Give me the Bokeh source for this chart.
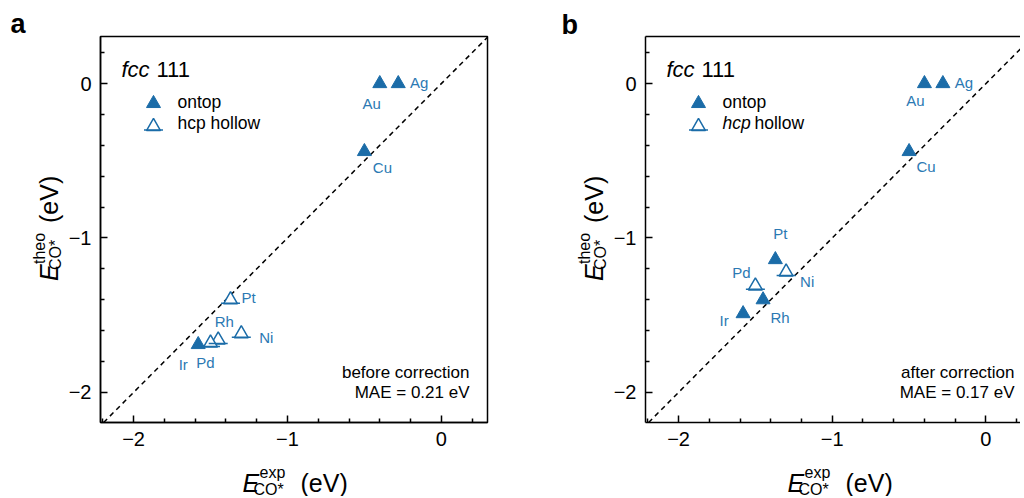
import math
from bokeh.plotting import figure
from bokeh.models import Label, FixedTicker, Slope, Range1d, LinearAxis
from bokeh.layouts import row, column
from bokeh.embed import file_html
from bokeh.resources import INLINE
from bokeh.core.properties import value

# ---------------- data ----------------
metals = ["Au", "Ag", "Cu", "Pt", "Rh", "Pd", "Ni", "Ir"]
e_exp = [-0.40, -0.28, -0.50, -1.37, -1.45, -1.50, -1.30, -1.58]
site_before = ["ontop", "ontop", "ontop", "hcp", "hcp", "hcp", "hcp", "ontop"]
e_theo_before = [0.0, 0.0, -0.44, -1.40, -1.66, -1.68, -1.62, -1.69]
site_after = ["ontop", "ontop", "ontop", "ontop", "ontop", "hcp", "hcp", "ontop"]
e_theo_after = [0.0, 0.0, -0.44, -1.14, -1.40, -1.31, -1.22, -1.49]
mae_before = "0.21"
mae_after = "0.17"
major_ticks = [-2, -1, 0]
minor_ticks = [-2.2, -1.8, -1.6, -1.4, -1.2, -0.8, -0.6, -0.4, -0.2, 0.2]
tick_labels = {-2: "\u22122", -1: "\u22121", 0: "0"}

# ---------------- layout / style ----------------
off_before = [(-8, 20), (21, -1), (18, 16), (18, -2), (6, -18), (-5, 20), (25, 4), (-15, 20)]
off_after = [(-9, 17), (21, -1), (17, 15), (5, -26), (17, 18), (-14, -13), (21, 10), (-19, 7)]

BLUE = "#1b6ca8"
LBLUE = "#2b79b3"
FONT = "Liberation Sans"
X0, Y0, Y1 = -2.215, -2.195, 0.305
TW = 1020          # total width
TS = 34            # top strip height (panel letters)
TOP, BOT = 2, 36   # plot borders
FH = 386           # frame height
PH = TOP + FH + BOT
BS = 38            # bottom strip height (x titles)
LB = 36            # plot left border
MID = 0.35         # baseline -> box middle, in em


def txt(p, x, y, text, size, style="normal", color="black", align="left",
        angle=0.0):
    """(x, y) is the baseline start of the text, in screen px from the
    frame's bottom-left corner."""
    if angle:
        x = x - MID * size
    else:
        y = y + MID * size
    p.add_layout(Label(x=x, y=y, x_units="screen", y_units="screen", text=text,
                       text_font=FONT, text_font_size=f"{size}px",
                       text_font_style=style, text_color=color,
                       text_align=align, text_baseline="middle", angle=angle))


def strip(w, h):
    s = figure(width=w, height=h, x_range=Range1d(0, w), y_range=Range1d(0, h),
               output_backend="svg", toolbar_location=None,
               x_axis_location=None, y_axis_location=None, min_border=0,
               min_border_left=0, min_border_right=0, min_border_top=0,
               min_border_bottom=0)
    s.outline_line_color = None
    s.grid.visible = False
    return s


def left_strip(w, base_x):
    # its frame is aligned with the neighbouring plot frame (abs y 36..422)
    s = strip(w, PH)
    a = math.pi / 2
    ys = 422 - 280.5
    txt(s, base_x, ys, "E", 25, style="italic", angle=a)
    txt(s, base_x - 12, ys + 17, "theo", 16, angle=a)
    txt(s, base_x + 4, ys + 11, "CO*", 16, angle=a)
    txt(s, base_x, ys + 58, "(eV)", 25, angle=a)
    return s


def x_title(s, xs):
    yb = 5
    txt(s, xs, yb, "E", 25, style="italic")
    txt(s, xs + 17, yb + 13, "exp", 16)
    txt(s, xs + 11, yb - 4, "CO*", 16)
    txt(s, xs + 58, yb, "(eV)", 25)


def panel(width, x1, br, frame_w, theo, sites, offs, line1, mae,
          italic_hcp, full_box):
    p = figure(width=width, height=PH, x_range=Range1d(X0, x1),
               y_range=Range1d(Y0, Y1), output_backend="svg",
               toolbar_location=None, min_border_left=LB, min_border_right=br,
               min_border_top=TOP, min_border_bottom=BOT)
    p.grid.visible = False
    xa = p.below[0]
    ya = p.left[0]
    for ax in (xa, ya):
        ax.ticker = FixedTicker(ticks=major_ticks, minor_ticks=minor_ticks)
        ax.major_tick_in = 7
        ax.major_tick_out = 0
        ax.minor_tick_in = 4
        ax.minor_tick_out = 0
        ax.major_tick_line_width = 1.5
        ax.minor_tick_line_width = 1.5
        ax.axis_line_width = 1.5
        ax.major_label_text_font = FONT
        ax.major_label_text_font_size = "20px"
        ax.major_label_text_color = "black"
        ax.major_label_overrides = tick_labels
        ax.major_label_standoff = 9
    if full_box:
        p.outline_line_color = "black"
        p.outline_line_width = 1.5
    else:
        p.outline_line_color = None
        top = LinearAxis(ticker=FixedTicker(ticks=[]), axis_line_width=1.5,
                         major_tick_in=0, major_tick_out=0, minor_tick_in=0,
                         minor_tick_out=0, major_label_text_font_size="0px")
        p.add_layout(top, "above")

    p.add_layout(Slope(gradient=1, y_intercept=0, line_color="black",
                       line_dash="5 4", line_width=1.5, level="underlay"))

    py = FH / (Y1 - Y0)
    px = frame_w / (x1 - X0)
    fx = [x for x, s in zip(e_exp, sites) if s == "ontop"]
    fy = [y for y, s in zip(theo, sites) if s == "ontop"]
    hx = [x for x, s in zip(e_exp, sites) if s == "hcp"]
    hy = [y for y, s in zip(theo, sites) if s == "hcp"]
    p.scatter(fx, fy, marker="triangle", size=14, fill_color=BLUE, line_color=BLUE)
    p.scatter(hx, hy, marker="triangle", size=14, fill_color="white",
              line_color=BLUE, line_width=1.5)
    p.scatter(hx, [y - 3.5 / py for y in hy], marker="dash", size=19,
              line_color=BLUE, line_width=1.5)
    p.text(x=e_exp, y=theo, text=metals, x_offset=[o[0] for o in offs],
           y_offset=[o[1] for o in offs], text_align="center",
           text_baseline="middle", text_font=value(FONT),
           text_font_size="15px", text_color=LBLUE)

    # legend
    lx = X0 + 53 / px
    p.scatter([lx], [Y0 + 319 / py], marker="triangle", size=14,
              fill_color=BLUE, line_color=BLUE)
    p.scatter([lx], [Y0 + 296 / py], marker="triangle", size=14,
              fill_color="white", line_color=BLUE, line_width=1.5)
    p.scatter([lx], [Y0 + (296 - 3.5) / py], marker="dash", size=19,
              line_color=BLUE, line_width=1.5)
    txt(p, 21, 345, "fcc", 22, style="italic")
    txt(p, 56, 345, "111", 22)
    txt(p, 77, 314, "ontop", 17.5)
    if italic_hcp:
        txt(p, 77, 293, "hcp", 17.5, style="italic")
        txt(p, 109, 293, "hollow", 17.5)
    else:
        txt(p, 77, 293, "hcp hollow", 17.5)

    txt(p, 369, 44, line1, 17, align="right")
    txt(p, 369, 24, f"MAE = {mae} eV", 17, align="right")
    return p


# panel letters, in one strip above both panels
top = strip(TW, TS)
txt(top, 10, TS - 33, "a", 27, style="bold")
txt(top, 561, TS - 34, "b", 27, style="bold")

# panel a: strip 0..64, plot 64..560 (frame 100..487)
lsa = left_strip(64, 57)
pa = panel(496, 0.30, 73, 387, e_theo_before, site_before, off_before,
           "before correction", mae_before, False, True)

# panel b: strip 560..609, plot 609..1020 (frame 645..1020)
lsb = left_strip(49, 42)
pb = panel(411, 0.225, 0, 375, e_theo_after, site_after, off_after,
           "after correction", mae_after, True, False)

# x axis titles, in one strip under both panels
bottom = strip(TW, BS)
x_title(bottom, 242)
x_title(bottom, 787)

layout = column(top, row(lsa, pa, lsb, pb), bottom)
open("out.html", "w").write(file_html(layout, INLINE))
